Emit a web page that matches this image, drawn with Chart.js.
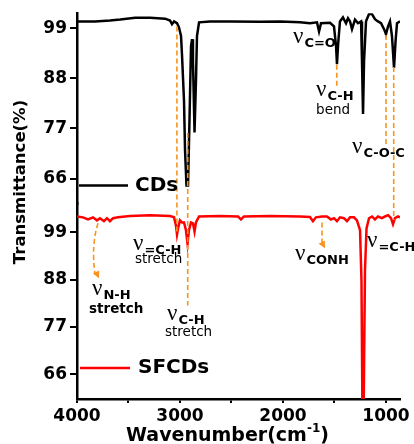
<!DOCTYPE html>
<html>
<head>
<meta charset="utf-8">
<script src="https://cdn.jsdelivr.net/npm/chart.js@4.4.0/dist/chart.umd.min.js"></script>
<style>
  html, body { margin: 0; padding: 0; background: #fff; }
  #wrap { width: 414px; height: 444px; position: relative; }
</style>
</head>
<body>
<div id="wrap"><canvas id="chart"></canvas></div>
<script>
// FTIR spectra: wavenumber (cm-1) and transmittance (%)
const cdsWave = [4000, 3825, 3680, 3580, 3435, 3290, 3145, 3097, 3078, 3058, 3029, 3010, 2990, 2980, 2961,
  2951, 2937, 2922, 2908, 2893, 2883, 2874, 2859, 2845, 2835, 2815, 2709, 2514, 2223, 2029,
  1835, 1738, 1670, 1650, 1631, 1543, 1505, 1485, 1476, 1466, 1447, 1418, 1388, 1369, 1349,
  1330, 1301, 1272, 1242, 1233, 1223, 1213, 1194, 1165, 1136, 1107, 1078, 1048, 1019, 1000,
  980, 961, 942, 922, 907, 893, 864];
const cdsT = [100.5, 100.5, 100.7, 100.9, 101.3, 101.3, 101.1, 100.7, 99.9, 100.5, 100.1, 99.2, 97.3, 92.9, 83,
  72.1, 64.5, 64.5, 78.7, 95.1, 96.6, 91.8, 76.1, 87.4, 97.3, 100.3, 100.5, 100.5, 100.4, 100.5,
  100.3, 100.1, 100.3, 98.3, 100.1, 100.2, 99.4, 95.1, 91.1, 95.1, 100.5, 101.4, 100.1, 101.2, 100.5,
  98.8, 100.9, 100.1, 100.5, 91.8, 80.2, 91.8, 100.5, 102.1, 102.1, 101, 100.5, 100.1, 98.8, 97.7,
  99.4, 100.5, 97.3, 90.3, 96.2, 100.1, 100.5];

const sfcdsWave = [4000, 3942, 3893, 3845, 3806, 3777, 3738, 3709, 3680, 3650, 3602, 3485, 3291, 3097, 3058,
  3039, 3029, 3019, 3000, 2980, 2961, 2942, 2927, 2913, 2893, 2874, 2859, 2845, 2815, 2611,
  2437, 2408, 2379, 2126, 1835, 1738, 1709, 1680, 1621, 1573, 1534, 1505, 1476, 1447, 1408,
  1379, 1349, 1311, 1282, 1252, 1238, 1228, 1218, 1204, 1189, 1165, 1136, 1107, 1078, 1039,
  1010, 980, 951, 932, 913, 883, 864];
const sfcdsT = [102.7, 102.5, 102, 102.5, 101.8, 102.3, 101.6, 102.3, 101.6, 102.3, 102.5, 102.8, 103, 102.8, 102.5,
  100.6, 98.5, 99.9, 101.8, 101.3, 101.3, 99.5, 96.4, 99.5, 101.3, 101.1, 99.2, 101.3, 102.7, 102.8,
  102.7, 102, 102.7, 102.8, 102.7, 102.6, 101.6, 102.5, 102.7, 102.7, 102, 102.3, 101.6, 102.5, 102.3,
  101.6, 102.5, 102.5, 101.8, 99.5, 87.8, 55, 55, 90.2, 99.9, 102.3, 102.7, 102, 102.7, 102.3,
  102.7, 103, 102.3, 100.9, 102.3, 102.7, 102.5];

const waveTicks = [4000, 3500, 3000, 2500, 2000, 1500, 1000];
const transTicks = [99, 88, 77, 66];

const ORANGE = '#f7931e';
const FONT = 'DejaVu Sans';

// orange dashed guides: wavenumber, start [axis, value], end [axis, value]
const guides = [
  { w: 3030, from: ['y1', 99.4], to: ['y2', 98.5] },
  { w: 2925, from: ['y1', 76], to: ['y2', 82] },
  { w: 1478, from: ['y1', 91], to: ['y1', 86.3] },
  { w: 1000, from: ['y1', 97.5], to: ['y1', 73.6] },
  { w: 925, from: ['y1', 90.5], to: ['y2', 101.8] }
];

// band labels (nu + subscript, optional second line)
const bandLabels = [
  { w: 1903, axis: 'y1', v: 95.7, sub: 'C=O' },
  { w: 1679, axis: 'y1', v: 84.1, sub: 'C-H', note: 'bend', dx: 0, dy: 18 },
  { w: 1330, axis: 'y1', v: 71.7, sub: 'C-O-C' },
  { w: 3456, axis: 'y2', v: 95.0, sub: '=C-H', note: 'stretch', dx: 2, dy: 13 },
  { w: 3126, axis: 'y2', v: 78.5, sub: 'C-H', note: 'stretch', dx: -2, dy: 16 },
  { w: 3854, axis: 'y2', v: 84.4, sub: 'N-H', note: 'stretch', dx: -3, dy: 18, bold: true },
  { w: 1883, axis: 'y2', v: 92.5, sub: 'CONH' },
  { w: 1184, axis: 'y2', v: 95.5, sub: '=C-H' }
];

function arrowHead(c, tx, ty, fx, fy) {
  const a = Math.atan2(ty - fy, tx - fx);
  const len = 7, half = 3.5;
  c.beginPath();
  c.moveTo(tx, ty);
  c.lineTo(tx - len * Math.cos(a) + half * Math.sin(a), ty - len * Math.sin(a) - half * Math.cos(a));
  c.lineTo(tx - len * Math.cos(a) - half * Math.sin(a), ty - len * Math.sin(a) + half * Math.cos(a));
  c.closePath();
  c.fill();
}

const annotPlugin = {
  id: 'annot',
  afterDatasetsDraw(chart) {
    const c = chart.ctx;
    const area = chart.chartArea;
    const px = w => chart.scales.x.getPixelForValue(w);
    const py = (axis, v) => chart.scales[axis].getPixelForValue(v);
    c.save();

    // dashed guide lines
    c.strokeStyle = ORANGE;
    c.fillStyle = ORANGE;
    c.lineWidth = 1.6;
    c.setLineDash([5, 3]);
    guides.forEach(g => {
      c.beginPath();
      c.moveTo(px(g.w), py(g.from[0], g.from[1]));
      c.lineTo(px(g.w), py(g.to[0], g.to[1]));
      c.stroke();
    });

    // curved arrow to N-H label
    c.beginPath();
    c.moveTo(px(3796), py('y2', 101.1));
    c.quadraticCurveTo(px(3864), py('y2', 96), px(3825), py('y2', 89.2));
    c.stroke();
    // straight arrow to CONH label
    c.beginPath();
    c.moveTo(px(1621), py('y2', 101.3));
    c.lineTo(px(1621), py('y2', 96.2));
    c.stroke();
    c.setLineDash([]);
    arrowHead(c, px(3786), py('y2', 88.3), px(3830), py('y2', 90.5));
    arrowHead(c, px(1592), py('y2', 95.3), px(1621), py('y2', 96.6));

    // band labels
    c.fillStyle = '#000';
    c.textBaseline = 'alphabetic';
    c.textAlign = 'left';
    bandLabels.forEach(l => {
      const x = px(l.w), y = py(l.axis, l.v);
      c.font = '23px "Liberation Serif"';
      c.fillText('\u03bd', x, y);
      const nw = c.measureText('\u03bd').width;
      c.font = 'bold 13px "' + FONT + '"';
      c.fillText(l.sub, x + nw + 1, y + 4);
      if (l.note) {
        c.font = (l.bold ? 'bold ' : '') + '13.5px "' + FONT + '"';
        c.fillText(l.note, x + l.dx, y + l.dy);
      }
    });

    // legends inside the plot
    c.lineWidth = 2.5;
    c.font = 'bold 20px "' + FONT + '"';
    c.textBaseline = 'middle';
    [['CDs', '#000', 'y1', 64.5, 3981, 3505, 3437], ['SFCDs', '#ff0000', 'y2', 67.4, 3971, 3485, 3408]].forEach(k => {
      const y = py(k[2], k[3]);
      c.strokeStyle = k[1];
      c.beginPath();
      c.moveTo(px(k[4]), y);
      c.lineTo(px(k[5]), y);
      c.stroke();
      c.fillStyle = '#000';
      c.fillText(k[0], px(k[6]), y);
    });

    // axis titles
    c.textAlign = 'center';
    c.font = 'bold 16.5px "' + FONT + '"';
    c.save();
    c.translate(21, 182);
    c.rotate(-Math.PI / 2);
    c.fillText('Transmittance(%)', 0, 0);
    c.restore();

    const main = 'Wavenumber(cm', sup = '-1', tail = ')';
    c.textAlign = 'left';
    c.textBaseline = 'alphabetic';
    c.font = 'bold 19px "' + FONT + '"';
    const w1 = c.measureText(main).width, w3 = c.measureText(tail).width;
    c.font = 'bold 12px "' + FONT + '"';
    const w2 = c.measureText(sup).width;
    let tx = (area.left + area.right) / 2 - 11 - (w1 + w2 + w3) / 2;
    const ty = 441;
    c.font = 'bold 19px "' + FONT + '"';
    c.fillText(main, tx, ty);
    c.font = 'bold 12px "' + FONT + '"';
    c.fillText(sup, tx + w1, ty - 9);
    c.font = 'bold 19px "' + FONT + '"';
    c.fillText(tail, tx + w1 + w2, ty);
    c.restore();
  }
};

const tickFont = { family: FONT, size: 17, weight: 'bold' };

function yAxis(min, max, weight) {
  return {
    type: 'linear',
    position: 'left',
    stack: 'spectra',
    stackWeight: weight,
    min: min,
    max: max,
    afterBuildTicks: s => { s.ticks = transTicks.map(v => ({ value: v })); },
    afterFit: s => { s.width = 77; },
    border: { color: '#000', width: 2.5 },
    grid: { display: true, drawOnChartArea: false, color: '#000', lineWidth: 2, tickLength: 7 },
    ticks: { color: '#000', font: tickFont, padding: 3 }
  };
}

new Chart(document.getElementById('chart').getContext('2d'), {
  type: 'line',
  data: {
    datasets: [
      { label: 'CDs', data: cdsWave.map((w, i) => ({ x: w, y: cdsT[i] })), yAxisID: 'y1',
        borderColor: '#000', borderWidth: 2.5, pointRadius: 0, tension: 0 },
      { label: 'SFCDs', data: sfcdsWave.map((w, i) => ({ x: w, y: sfcdsT[i] })), yAxisID: 'y2',
        borderColor: '#ff0000', borderWidth: 2.5, pointRadius: 0, tension: 0 }
    ]
  },
  options: {
    responsive: true,
    maintainAspectRatio: false,
    animation: false,
    layout: { padding: { top: 12, right: 14, left: 0, bottom: 0 } },
    plugins: { legend: { display: false }, tooltip: { enabled: false } },
    scales: {
      x: {
        type: 'linear',
        reverse: true,
        min: 864,
        max: 4000,
        afterBuildTicks: s => { s.ticks = waveTicks.map(v => ({ value: v })); },
        afterFit: s => { s.height = 45; },
        border: { color: '#000', width: 2.5 },
        grid: { display: true, drawOnChartArea: false, color: '#000', lineWidth: 2, tickLength: 4 },
        ticks: { color: '#000', font: tickFont, padding: 3, maxRotation: 0,
          callback: v => (v % 1000 === 0 ? String(v) : '') }
      },
      // stacked left axes: the last one listed is placed on top
      y2: yAxis(60.2, 105.7, 196),
      y1: yAxis(60.5, 102.3, 191)
    }
  },
  plugins: [annotPlugin]
});
</script>
</body>
</html>
